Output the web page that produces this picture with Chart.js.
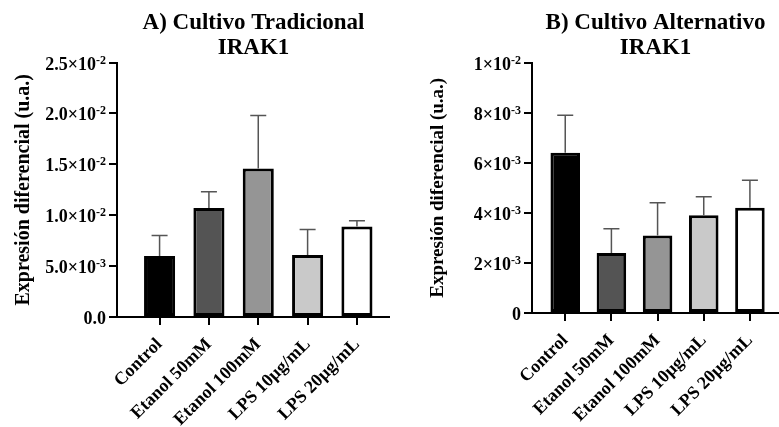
<!DOCTYPE html>
<html>
<head>
<meta charset="utf-8">
<script src="https://cdn.jsdelivr.net/npm/chart.js@4"></script>
<style>
  body { margin: 0; background: #fff; }
  .panel { position: absolute; top: 0; }
</style>
</head>
<body>
<div class="panel" style="left:0"><canvas id="chartA" width="390" height="427"></canvas></div>
<div class="panel" style="left:390px"><canvas id="chartB" width="389" height="427"></canvas></div>
<script>
const categories = ['Control', 'Etanol 50mM', 'Etanol 100mM', 'LPS 10µg/mL', 'LPS 20µg/mL']
const barColors = ['#000000', '#545454', '#959595', '#c9c9c9', '#ffffff']

// A) traditional culture: mean and SD (upper bar only)
const meanA = [0.0060, 0.0107, 0.0146, 0.0061, 0.0089]
const sdA = [0.0020, 0.0016, 0.0052, 0.0025, 0.00055]
const yTicksA = ['0.0', '5.0×10⁻³', '1.0×10⁻²', '1.5×10⁻²', '2.0×10⁻²', '2.5×10⁻²']

// B) alternative culture
const meanB = [0.0064, 0.0024, 0.0031, 0.0039, 0.0042]
const sdB = [0.0015, 0.00096, 0.0013, 0.00074, 0.0011]
const yTicksB = ['0', '2×10⁻³', '4×10⁻³', '6×10⁻³', '8×10⁻³', '1×10⁻²']

const serif = "'Liberation Serif', 'Times New Roman', serif"
const sup = {'⁻': '-', '²': '2', '³': '3'}

// split '2.5×10⁻²' into base '2.5×10' and exponent '-2'
const splitTick = s => {
  const m = s.match(/^([^⁻²³]*)([⁻²³]*)$/)
  return [m[1], m[2].split('').map(c => sup[c]).join('')]
}

const errorBars = {
  id: 'errorBars',
  afterDatasetsDraw(chart, args, opts) {
    const ctx = chart.ctx
    const y = chart.scales.y
    const meta = chart.getDatasetMeta(0)
    ctx.save()
    ctx.strokeStyle = '#555'
    ctx.lineWidth = 1.5
    meta.data.forEach((bar, i) => {
      const top = y.getPixelForValue(opts.means[i] + opts.sds[i])
      ctx.beginPath()
      ctx.moveTo(bar.x, bar.y)
      ctx.lineTo(bar.x, top)
      ctx.moveTo(bar.x - 8, top)
      ctx.lineTo(bar.x + 8, top)
      ctx.stroke()
    })
    ctx.restore()
  }
}

// y tick labels with a real superscript exponent
const supTicks = {
  id: 'supTicks',
  afterDraw(chart, args, opts) {
    const ctx = chart.ctx
    const y = chart.scales.y
    const right = y.right - 8 - 3
    ctx.save()
    ctx.fillStyle = '#000'
    y.ticks.forEach((t, i) => {
      const py = y.getPixelForTick(i)
      const [base, exp] = splitTick(opts.labels[i])
      ctx.font = `bold 12px ${serif}`
      const ew = exp ? ctx.measureText(exp).width : 0
      ctx.textAlign = 'right'
      ctx.textBaseline = 'alphabetic'
      if (exp) ctx.fillText(exp, right, py + 1)
      ctx.font = `bold 18px ${serif}`
      ctx.fillText(base, right - ew, py + 7)
    })
    ctx.restore()
  }
}

const makeChart = (id, cfg) => {
  const ctx = document.getElementById(id)
  return new Chart(ctx, {
    type: 'bar',
    data: {
      datasets: [{
        data: cfg.means.map((v, i) => ({x: i, y: v})),
        backgroundColor: barColors,
        borderColor: '#000',
        borderWidth: 3,
        borderSkipped: false,
        barPercentage: cfg.barPct,
        categoryPercentage: 1
      }]
    },
    plugins: [errorBars, supTicks],
    options: {
      responsive: false,
      animation: false,
      layout: {padding: 0},
      plugins: {
        legend: {display: false},
        tooltip: {enabled: false},
        errorBars: {means: cfg.means, sds: cfg.sds},
        supTicks: {labels: cfg.yTicks},
        title: {
          display: true,
          fullSize: false,
          text: cfg.title,
          color: '#000',
          font: {family: serif, size: 23, weight: 'bold', lineHeight: 1.1},
          padding: {top: 10, bottom: 2}
        }
      },
      scales: {
        x: {
          type: 'linear',
          offset: false,
          min: cfg.xMin,
          max: cfg.xMax,
          afterFit: s => { s.height = cfg.xHeight },
          grid: {display: true, offset: false, drawOnChartArea: false, drawTicks: true, tickLength: 8, color: '#000', lineWidth: 2},
          border: {display: true, color: '#000', width: 2},
          ticks: {
            stepSize: 1,
            includeBounds: false,
            autoSkip: false,
            minRotation: 45,
            maxRotation: 45,
            padding: 9,
            color: '#000',
            font: {family: serif, size: 18, weight: 'bold'},
            callback: v => Number.isInteger(v) ? categories[v] : ''
          }
        },
        y: {
          min: 0,
          max: cfg.yMax,
          afterFit: s => { s.width = cfg.yWidth },
          grid: {display: true, drawOnChartArea: false, drawTicks: true, tickLength: 8, color: '#000', lineWidth: 2},
          border: {display: true, color: '#000', width: 2},
          ticks: {
            stepSize: cfg.yStep,
            padding: 3,
            color: 'rgba(0,0,0,0)',
            font: {family: serif, size: 17, weight: 'bold'},
            callback: (v, i) => cfg.yTicks[i]
          },
          title: {
            display: true,
            text: 'Expresión diferencial (u.a.)',
            color: '#000',
            font: {family: serif, size: cfg.yTitleSize, weight: 'bold'},
            padding: {top: cfg.yTitlePad, bottom: 0}
          }
        }
      }
    }
  })
}

makeChart('chartA', {
  means: meanA, sds: sdA, yTicks: yTicksA,
  yMax: 0.025, yStep: 0.005,
  xMin: -0.863, xMax: 4.67,
  yWidth: 117, xHeight: 110,
  barPct: 0.63,
  yTitleSize: 20, yTitlePad: 12,
  title: ['A) Cultivo Tradicional', 'IRAK1']
})

makeChart('chartB', {
  means: meanB, sds: sdB, yTicks: yTicksB,
  yMax: 0.01, yStep: 0.002,
  xMin: -0.72, xMax: 4.63,
  yWidth: 142, xHeight: 114,
  barPct: 0.64,
  yTitleSize: 19, yTitlePad: 37,
  title: ['B) Cultivo Alternativo', 'IRAK1']
})
</script>
</body>
</html>
